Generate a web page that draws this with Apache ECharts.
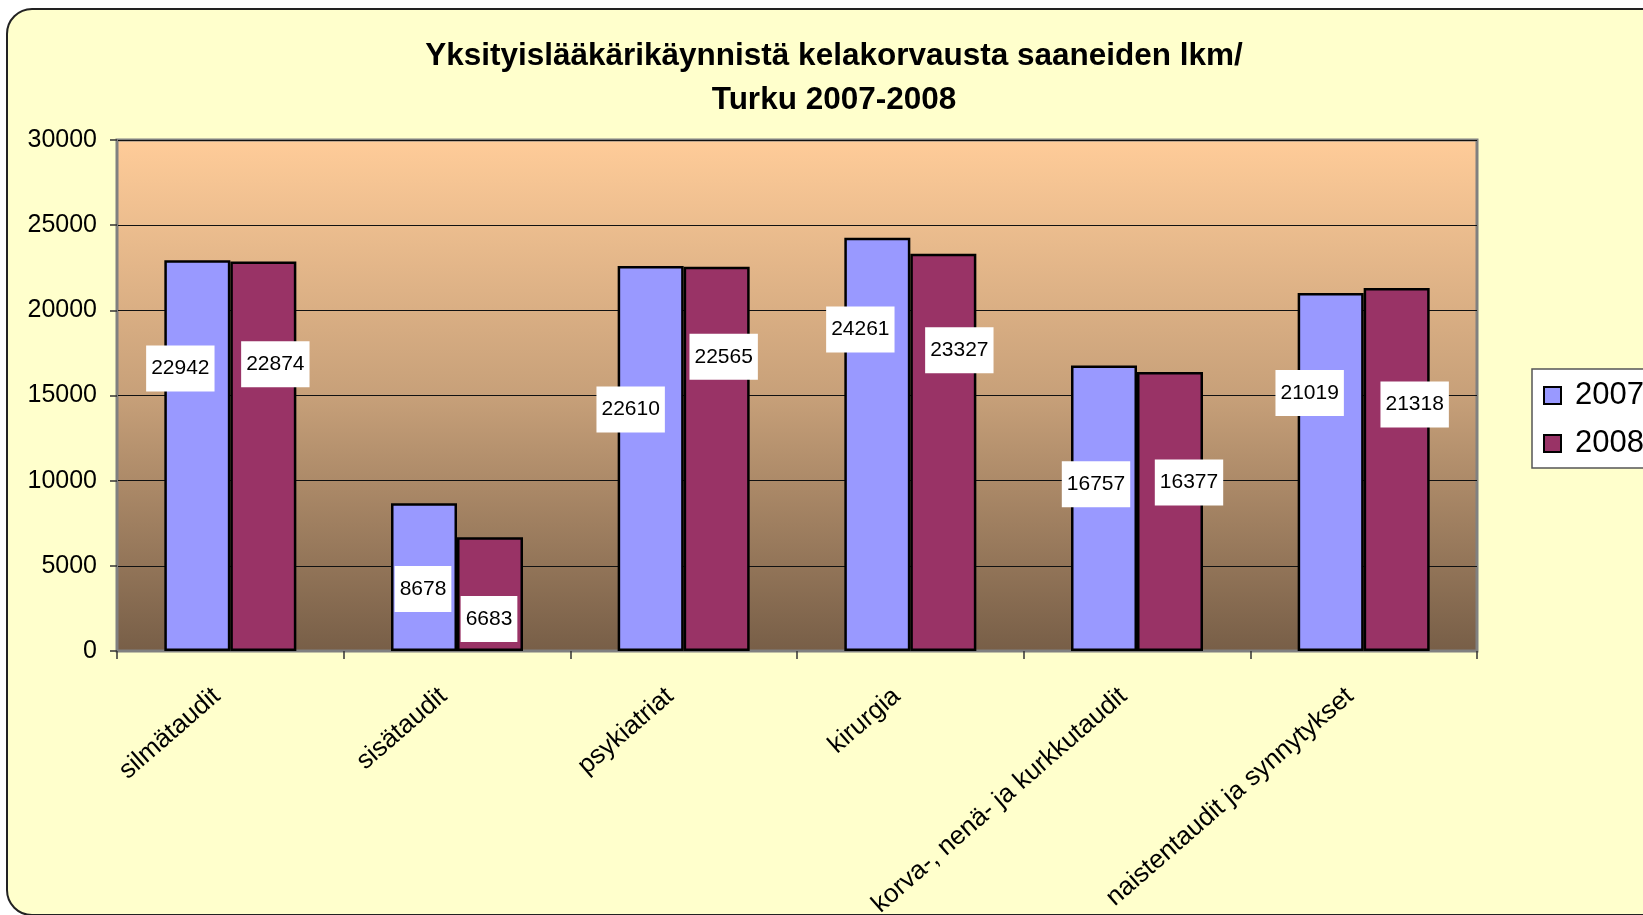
<!DOCTYPE html>
<html>
<head>
<meta charset="utf-8">
<script src="https://cdn.jsdelivr.net/npm/echarts@6/dist/echarts.min.js"></script>
<style>
  html, body { margin: 0; padding: 0; background: #ffffff; overflow: hidden; }
  #frame { position: absolute; left: 6px; top: 8px; width: 1720px; height: 908px;
           background: #FFFFCC; border: 2px solid #222; border-radius: 26px; box-sizing: border-box; }
  #chart { position: absolute; left: 0; top: 0; width: 1643px; height: 915px; }
</style>
</head>
<body>
<div id="frame"></div>
<div id="chart"></div>
<script>
const categories = ['silmätaudit', 'sisätaudit', 'psykiatriat', 'kirurgia', 'korva-, nenä- ja kurkkutaudit', 'naistentaudit ja synnytykset'];
const values2007 = [22942, 8678, 22610, 24261, 16757, 21019];
const values2008 = [22874, 6683, 22565, 23327, 16377, 21318];
const seriesNames = ['2007', '2008'];
const titleLines = ['Yksityislääkärikäynnistä kelakorvausta saaneiden lkm/', 'Turku 2007-2008'];

// label placement (pixel offsets from bar centre), as dragged in the original
const labelShift2007 = [[-17, -87], [-1, 12], [-20, -49], [-17, -115], [-8, -24], [-21, -79]];
const labelShift2008 = [[12, -92], [-1, 25], [7, -102], [16, -102], [19, -29], [18, -65]];

const chart = echarts.init(document.getElementById('chart'), null, { renderer: 'canvas' });

function makeData(vals, shifts) {
  return vals.map((v, i) => ({ value: v, label: { offset: shifts[i] } }));
}

const FONT = 'Liberation Sans, Arial, sans-serif';

const labelStyle = {
  show: true,
  position: 'inside',
  color: '#000',
  fontFamily: FONT,
  fontSize: 21,
  backgroundColor: '#ffffff',
  padding: [13, 5, 12, 5]
};

const option = {
  backgroundColor: 'transparent',
  animation: false,
  title: {
    text: titleLines.join('\n'),
    left: 829,
    top: 29,
    textAlign: 'center',
    textStyle: {
      fontFamily: FONT,
      fontWeight: 'bold',
      fontSize: 31.5,
      lineHeight: 44,
      color: '#000'
    }
  },
  legend: {
    data: seriesNames,
    orient: 'vertical',
    left: 1532,
    top: 369,
    backgroundColor: '#ffffff',
    borderColor: '#555',
    borderWidth: 1.5,
    padding: [9, 10, 7, 11],
    itemGap: 13,
    itemWidth: 17,
    itemHeight: 17,
    icon: 'rect',
    itemStyle: { borderWidth: 2, borderColor: '#000' },
    textStyle: {
      fontFamily: FONT,
      fontSize: 31,
      lineHeight: 35,
      color: '#000',
      padding: [0, 0, 0, 9]
    }
  },
  grid: {
    left: 117,
    top: 140,
    width: 1360,
    height: 511,
    outerBoundsMode: 'none',
    containLabel: false,
    show: true,
    borderColor: '#808080',
    borderWidth: 3,
    backgroundColor: new echarts.graphic.LinearGradient(0, 0, 0, 1, [
      { offset: 0, color: '#FFCC99' },
      { offset: 0.5, color: '#C7A079' },
      { offset: 1, color: '#775E47' }
    ])
  },
  xAxis: {
    type: 'category',
    data: categories,
    axisLine: { lineStyle: { color: '#808080', width: 2 } },
    axisTick: { show: true, alignWithLabel: false, length: 8, lineStyle: { color: '#333', width: 1.5 } },
    axisLabel: {
      interval: 0,
      rotate: 41,
      margin: 30,
      padding: [0, 18, 0, 0],
      fontFamily: FONT,
      fontSize: 26,
      color: '#000'
    }
  },
  yAxis: {
    type: 'value',
    min: 0,
    max: 30000,
    interval: 5000,
    axisLine: { show: true, lineStyle: { color: '#808080', width: 2 } },
    axisTick: { show: true, length: 7, lineStyle: { color: '#333', width: 1.5 } },
    splitLine: { show: true, lineStyle: { color: '#111', width: 1 } },
    axisLabel: {
      margin: 20,
      formatter: function (v) { return String(v); },
      fontFamily: FONT,
      fontSize: 25,
      color: '#000'
    }
  },
  series: [
    {
      name: seriesNames[0],
      type: 'bar',
      barWidth: 66,
      barGap: '0%',
      data: makeData(values2007, labelShift2007),
      itemStyle: { color: '#9999FF', borderColor: '#000', borderWidth: 2.5 },
      label: labelStyle
    },
    {
      name: seriesNames[1],
      type: 'bar',
      barWidth: 66,
      barGap: '0%',
      data: makeData(values2008, labelShift2008),
      itemStyle: { color: '#993366', borderColor: '#000', borderWidth: 2.5 },
      label: labelStyle
    }
  ]
};

chart.setOption(option);
</script>
</body>
</html>
